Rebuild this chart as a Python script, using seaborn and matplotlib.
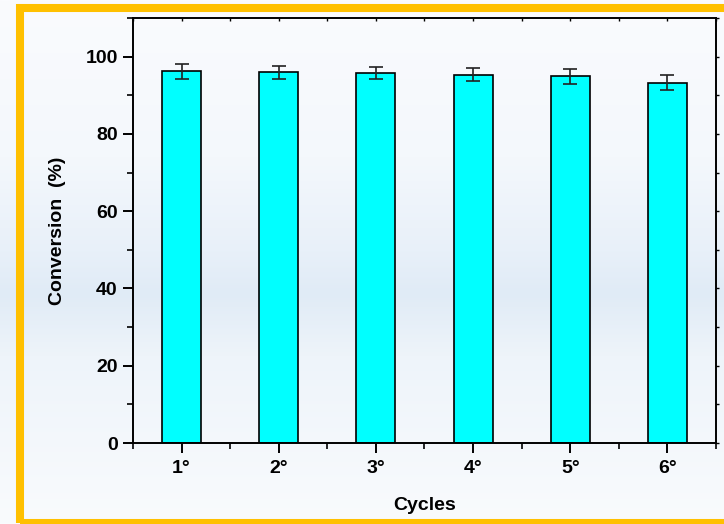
import numpy as np
import pandas as pd
import matplotlib
matplotlib.use("Agg")
import matplotlib.pyplot as plt
import seaborn as sns
from matplotlib.patches import Rectangle
from matplotlib.colors import LinearSegmentedColormap
from matplotlib.ticker import MultipleLocator

cycles = ["1°", "2°", "3°", "4°", "5°", "6°"]
conversion = [96.2, 96.0, 95.7, 95.3, 94.9, 93.3]
errors = [2.0, 1.7, 1.6, 1.7, 1.9, 1.9]

sns.set_theme(style="white")
plt.rcParams['font.family'] = ['Liberation Sans', 'DejaVu Sans']
plt.rcParams['font.weight'] = 'bold'
plt.rcParams['text.color'] = 'black'
plt.rcParams['axes.labelcolor'] = 'black'
plt.rcParams['xtick.color'] = 'black'
plt.rcParams['ytick.color'] = 'black'

fig = plt.figure(figsize=(7.24, 5.24), dpi=100)

# background gradient
bg = fig.add_axes([0, 0, 1, 1], zorder=-10)
cmap = LinearSegmentedColormap.from_list(
    "bg", [(0.0, "#fafbfe"), (0.3, "#f4f8fc"), (0.48, "#e8f0f9"),
           (0.56, "#e0ebf6"), (0.68, "#eef4fa"), (1.0, "#f9fbfd")])
grad = np.linspace(0, 1, 256).reshape(-1, 1)
bg.imshow(grad, aspect="auto", cmap=cmap, extent=[0, 1, 0, 1], origin="upper")
bg.axis("off")

# orange frame
fig.patches.append(Rectangle((20 / 724, 1 / 524), 720 / 724, 515 / 524,
                             transform=fig.transFigure, fill=False,
                             edgecolor="#FFC000", linewidth=5.8, zorder=5))

ax = fig.add_axes([133 / 724, (524 - 443) / 524, (716 - 133) / 724, (443 - 18) / 524])
ax.set_facecolor("none")

df = pd.DataFrame({"Cycles": cycles, "Conversion": conversion})
sns.barplot(data=df, x="Cycles", y="Conversion", ax=ax, color="#00FFFF",
            width=0.4, edgecolor="black", linewidth=1.2, saturation=1, errorbar=None)
ax.errorbar(np.arange(len(cycles)), conversion, yerr=errors, fmt="none",
            ecolor="#222222", elinewidth=1.2, capsize=5, capthick=1.2, zorder=5)

ax.set_xlim(-0.5, 5.5)
ax.set_ylim(0, 110)
ax.yaxis.set_major_locator(MultipleLocator(20))
ax.yaxis.set_minor_locator(MultipleLocator(10))
ax.xaxis.set_minor_locator(MultipleLocator(0.5))

for s in ax.spines.values():
    s.set_visible(True)
    s.set_color("black")
    s.set_linewidth(1.4)

# left / bottom ticks
ax.tick_params(axis="y", which="major", left=True, direction="out", length=7, width=1.4,
               labelsize=14, colors="black", pad=4)
ax.tick_params(axis="y", which="minor", left=True, direction="out", length=4, width=1.2)
ax.tick_params(axis="x", which="major", bottom=True, direction="out", length=7, width=1.4,
               labelsize=14, colors="black", pad=5)
ax.tick_params(axis="x", which="minor", bottom=True, direction="out", length=4, width=1.2)

# mirrored small ticks on top and right
sec_x = ax.secondary_xaxis("top")
sec_x.set_xticks(np.arange(-0.5, 5.6, 0.5))
sec_x.tick_params(direction="in", length=2.5, width=1.0, labeltop=False, colors="black")
sec_x.spines["top"].set_visible(False)
sec_y = ax.secondary_yaxis("right")
sec_y.set_yticks(np.arange(0, 111, 10))
sec_y.tick_params(direction="out", length=2.5, width=1.0, labelright=False, colors="black")
sec_y.spines["right"].set_visible(False)

for lab in ax.get_xticklabels() + ax.get_yticklabels():
    lab.set_fontweight("bold")
    lab.set_color("black")

ax.set_xlabel("Cycles", fontsize=14, fontweight="bold", labelpad=15, color="black")
ax.set_ylabel("Conversion  (%)", fontsize=14, fontweight="bold", labelpad=14, color="black")

fig.savefig("out.png", dpi=100)
